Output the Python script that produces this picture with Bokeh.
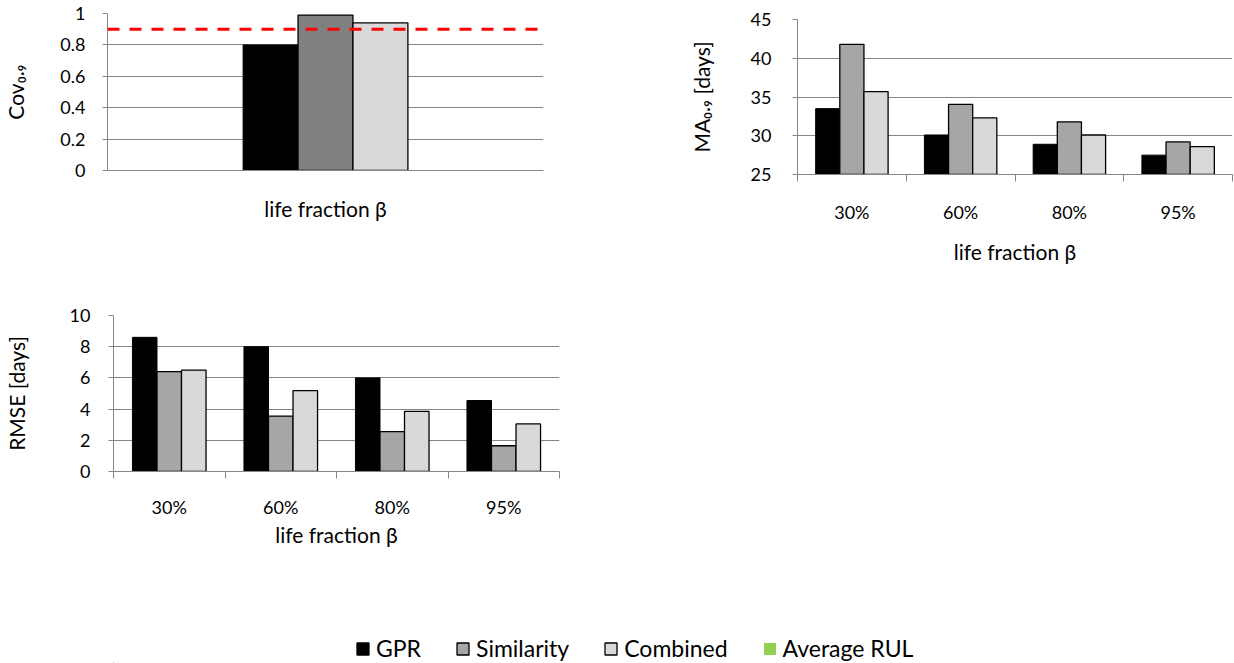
import numpy as np
from bokeh.plotting import figure
from bokeh.models import (ColumnDataSource, Range1d, FixedTicker, Span,
                          Legend, LegendItem)
from bokeh.layouts import column, row
from bokeh.embed import file_html
from bokeh.resources import INLINE
from bokeh.transform import dodge

# ---------------- data ----------------
categories = ["30%", "60%", "80%", "95%"]
series_names = ["GPR", "Similarity", "Combined", "Average RUL"]

cov_gpr = [0.80]
cov_similarity = [0.99]
cov_combined = [0.94]
cov_threshold = 0.9
cov_ticks = [0, 0.2, 0.4, 0.6, 0.8, 1]
cov_tick_labels = ["0", "0.2", "0.4", "0.6", "0.8", "1"]

ma_gpr = [33.5, 30.1, 28.9, 27.5]
ma_similarity = [41.8, 34.05, 31.8, 29.2]
ma_combined = [35.7, 32.3, 30.1, 28.6]
ma_ticks = [25, 30, 35, 40, 45]

rmse_gpr = [8.6, 8.0, 6.0, 4.55]
rmse_similarity = [6.4, 3.55, 2.55, 1.65]
rmse_combined = [6.5, 5.18, 3.85, 3.05]
rmse_ticks = [0, 2, 4, 6, 8, 10]

x_title = "life fraction \u03b2"
cov_title = "Cov\u2080.\u2089"
ma_title = "MA\u2080.\u2089 [days]"
rmse_title = "RMSE [days]"

# ---------------- style ----------------
FONT = "Lato"
GRID = "#868686"
C_GPR = "#000000"
C_SIM_DARK = "#808080"
C_SIM = "#A6A6A6"
C_COMB = "#D9D9D9"
C_AVG = "#92D050"
TICK_FS = "18px"
TITLE_FS = "21px"


def make_fig(fw, fh, left, right, top, bottom, n_cat, ymin, ymax, yticks,
             ytitle, ytitle_standoff, ylabels=None, ystandoff=15):
    p = figure(frame_width=fw, frame_height=fh, x_range=Range1d(0, n_cat),
               y_range=Range1d(ymin, ymax), output_backend="svg",
               toolbar_location=None, min_border_left=left,
               min_border_right=right, min_border_top=top,
               min_border_bottom=bottom)
    p.title.visible = False
    p.outline_line_color = None
    p.xgrid.visible = False
    p.ygrid.grid_line_color = GRID
    p.ygrid.grid_line_width = 1
    ya = p.yaxis[0]
    ya.ticker = FixedTicker(ticks=yticks)
    if ylabels is not None:
        ya.major_label_overrides = {t: l for t, l in zip(yticks, ylabels)}
    ya.axis_line_color = GRID
    ya.major_tick_line_color = GRID
    ya.major_tick_out = 5
    ya.major_tick_in = 0
    ya.minor_tick_line_color = None
    ya.major_label_text_font = FONT
    ya.major_label_text_font_size = TICK_FS
    ya.major_label_text_color = "black"
    ya.major_label_standoff = ystandoff
    ya.axis_label = ytitle
    ya.axis_label_standoff = ytitle_standoff
    ya.axis_label_text_font = FONT
    ya.axis_label_text_font_size = TITLE_FS
    ya.axis_label_text_font_style = "normal"
    ya.axis_label_text_color = "black"
    xa = p.xaxis[0]
    xa.axis_line_color = GRID
    xa.axis_label = x_title
    xa.axis_label_text_font = FONT
    xa.axis_label_text_font_size = TITLE_FS
    xa.axis_label_text_font_style = "normal"
    xa.axis_label_text_color = "black"
    xa.major_label_text_font = FONT
    xa.major_label_text_font_size = TICK_FS
    xa.major_label_text_color = "black"
    return p


def cat_axis(p, n, label_standoff, title_standoff):
    xa = p.xaxis[0]
    centers = [i + 0.5 for i in range(n)]
    xa.ticker = FixedTicker(ticks=centers, minor_ticks=list(range(n + 1)))
    xa.major_label_overrides = {c: cat for c, cat in zip(centers, categories)}
    xa.major_tick_line_color = None
    xa.major_tick_out = 0
    xa.major_tick_in = 0
    xa.minor_tick_line_color = GRID
    xa.minor_tick_out = 7
    xa.minor_tick_in = 0
    xa.major_label_standoff = label_standoff
    xa.axis_label_standoff = title_standoff


def add_bars(p, gpr, sim, comb, width, sim_color):
    n = len(gpr)
    src = ColumnDataSource(dict(x=[i + 0.5 for i in range(n)], gpr=gpr, sim=sim, comb=comb))
    p.vbar(x=dodge("x", -width, range=p.x_range), top="gpr", bottom=p.y_range.start,
           width=width, source=src, fill_color=C_GPR, line_color="black", line_width=1)
    p.vbar(x=dodge("x", 0, range=p.x_range), top="sim", bottom=p.y_range.start,
           width=width, source=src, fill_color=sim_color, line_color="black", line_width=1.3)
    p.vbar(x=dodge("x", width, range=p.x_range), top="comb", bottom=p.y_range.start,
           width=width, source=src, fill_color=C_COMB, line_color="black", line_width=1.3)


# ---------------- chart 1: coverage ----------------
p1 = make_fig(436, 157, 107, 137, 13, 120, 1, 0, 1, cov_ticks, cov_title, 29,
              ylabels=cov_tick_labels, ystandoff=17)
xa1 = p1.xaxis[0]
xa1.ticker = FixedTicker(ticks=[])
xa1.major_tick_line_color = None
xa1.minor_tick_line_color = None
xa1.major_label_standoff = 0
xa1.axis_label_standoff = 25
add_bars(p1, cov_gpr, cov_similarity, cov_combined, 0.126, C_SIM_DARK)
p1.add_layout(Span(location=cov_threshold, dimension="width", line_color="#FF0000",
                   line_width=3, line_dash="12 10"))

# ---------------- chart 2: MA ----------------
p2 = make_fig(435, 155, 117, 2, 19, 116, 4, 25, 45, ma_ticks, ma_title, 34,
              ystandoff=21)
cat_axis(p2, 4, 19, 13)
add_bars(p2, ma_gpr, ma_similarity, ma_combined, 0.222, C_SIM)

# ---------------- chart 3: RMSE ----------------
p3 = make_fig(446, 156, 113, 49, 25, 89, 4, 0, 10, rmse_ticks, rmse_title, 38,
              ystandoff=18)
cat_axis(p3, 4, 17, 1)
add_bars(p3, rmse_gpr, rmse_similarity, rmse_combined, 0.22, C_SIM)

# ---------------- legend ----------------
pl = figure(width=1234, height=103, x_range=Range1d(0, 1), y_range=Range1d(0, 1),
            output_backend="svg", toolbar_location=None, x_axis_type=None,
            y_axis_type=None, min_border_left=0, min_border_right=0,
            min_border_top=0, min_border_bottom=0)
pl.title.visible = False
pl.outline_line_color = None
pl.xgrid.visible = False
pl.ygrid.visible = False
leg_colors = [C_GPR, C_SIM, C_COMB, C_AVG]
leg_lines = ["black", "black", "black", None]
items = []
for name, fc, lc in zip(series_names, leg_colors, leg_lines):
    src = ColumnDataSource(dict(x=[-50.0], top=[-50.0]))
    r = pl.vbar(x="x", top="top", bottom=-60.0, width=0.1, source=src, fill_color=fc,
                line_color=lc, line_width=1.3)
    items.append(LegendItem(label=name, renderers=[r]))
legend = Legend(items=items, orientation="horizontal", location=(242, 1),
                border_line_color=None, background_fill_alpha=0, padding=0, margin=0,
                spacing=34, label_standoff=6, glyph_width=15, glyph_height=15,
                label_height=20, label_text_font=FONT, label_text_font_size="23px",
                label_text_color="black")
pl.add_layout(legend, "center")

layout = column(row(column(p1), column(p2)), p3, pl)
open("out.html", "w").write(file_html(layout, INLINE))
